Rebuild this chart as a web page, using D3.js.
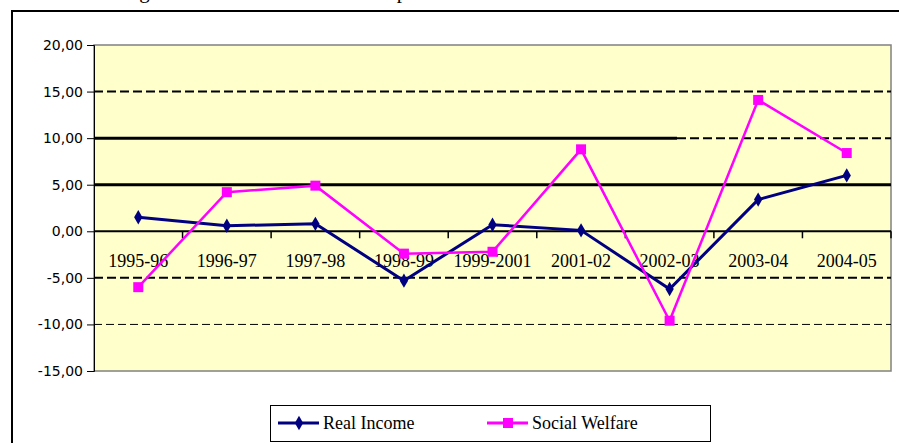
<!DOCTYPE html>
<html>
<head>
<meta charset="utf-8">
<script src="https://cdn.jsdelivr.net/npm/d3@7"></script>
<style>
	body { margin: 0; background: #ffffff; }
	svg { display: block; }
</style>
</head>
<body>
<main></main>
<script>

// DATA
const categories = ["1995-96", "1996-97", "1997-98", "1998-99", "1999-2001", "2001-02", "2002-03", "2003-04", "2004-05"];
const realIncome = [1.5, 0.6, 0.8, -5.3, 0.7, 0.1, -6.2, 3.4, 6.0];
const socialWelfare = [-6.0, 4.2, 4.9, -2.4, -2.2, 8.8, -9.6, 14.1, 8.4];
const yTicks = [20, 15, 10, 5, 0, -5, -10, -15];
const seriesNames = ["Real Income", "Social Welfare"];

const SERIF = "'Liberation Serif', 'Times New Roman', serif";



// CHART
function visualizeData() {
	const w = 899;
	const h = 443;
	const plot = { left: 94, right: 891, top: 45, bottom: 371 };

	const svg = d3.select('main').append('svg')
		.attr("width", w)
		.attr("height", h)
		.style("background-color", "white");

	// scales
	const xScale = d3.scaleBand()
		.domain(categories)
		.range([plot.left, plot.right]);
	const yScale = d3.scaleLinear()
		.domain([-15, 20])
		.range([plot.bottom, plot.top]);

	// title (cut off at top of picture, as in the source)
	svg.append("text")
		.attr("x", 95)
		.attr("y", -2)
		.attr("font-family", SERIF)
		.attr("font-size", 21)
		.text("Change in Income and Welfare compared");

	// outer chart frame
	svg.append("rect")
		.attr("x", 12)
		.attr("y", 11)
		.attr("width", 900)
		.attr("height", 460)
		.attr("fill", "none")
		.attr("stroke", "black")
		.attr("stroke-width", 2);

	// plot area
	svg.append("rect")
		.attr("x", plot.left)
		.attr("y", plot.top)
		.attr("width", plot.right - plot.left)
		.attr("height", plot.bottom - plot.top)
		.attr("fill", "#ffffcc")
		.attr("stroke", "#808080")
		.attr("stroke-width", 1.5);

	// gridlines (styles vary like the source)
	const grid = svg.append("g").attr("class", "grid");
	const gridStyle = {
		"15": { width: 2, dash: "9,4" },
		"5": { width: 3, dash: null },
		"0": { width: 2, dash: null },
		"-5": { width: 2, dash: "9,4" },
		"-10": { width: 1, dash: "8,4" }
	};
	yTicks.filter(v => gridStyle[v]).forEach(v => {
		grid.append("line")
			.attr("x1", plot.left)
			.attr("x2", plot.right)
			.attr("y1", yScale(v))
			.attr("y2", yScale(v))
			.attr("stroke", "black")
			.attr("stroke-width", gridStyle[v].width)
			.attr("stroke-dasharray", gridStyle[v].dash);
	});
	// 10 line: solid, then dashed toward the right
	const split = 677;
	grid.append("line")
		.attr("x1", plot.left).attr("x2", split)
		.attr("y1", yScale(10)).attr("y2", yScale(10))
		.attr("stroke", "black").attr("stroke-width", 3);
	grid.append("line")
		.attr("x1", split).attr("x2", plot.right)
		.attr("y1", yScale(10)).attr("y2", yScale(10))
		.attr("stroke", "black").attr("stroke-width", 2)
		.attr("stroke-dasharray", "9,4");

	// y axis
	const yAxis = d3.axisLeft(yScale)
		.tickValues(yTicks)
		.tickSize(7)
		.tickPadding(4)
		.tickFormat(d => d.toFixed(2).replace(".", ","));
	const gy = svg.append("g")
		.attr("id", "y-axis")
		.attr("transform", `translate(${plot.left}, 0)`)
		.call(yAxis);
	gy.select(".domain").attr("stroke", "black");
	gy.selectAll("text")
		.attr("font-family", "'DejaVu Sans', sans-serif")
		.attr("font-size", 14)
		.attr("fill", "black");

	// x axis at zero
	const xAxis = d3.axisBottom(xScale).tickSize(0).tickFormat("");
	const gx = svg.append("g")
		.attr("id", "x-axis")
		.attr("transform", `translate(0, ${yScale(0)})`)
		.call(xAxis);
	gx.select(".domain").remove();
	// ticks between categories
	const bounds = categories.map(c => xScale(c)).concat([plot.right]).slice(1);
	gx.selectAll("line.sep")
		.data(bounds)
		.enter()
		.append("line")
			.attr("class", "sep")
			.attr("x1", d => d).attr("x2", d => d)
			.attr("y1", 0).attr("y2", 7)
			.attr("stroke", "black")
			.attr("stroke-width", 1.5);
	// category labels
	svg.append("g").selectAll("text")
		.data(categories)
		.enter()
		.append("text")
			.attr("x", d => xScale(d) + xScale.bandwidth() / 2)
			.attr("y", 267)
			.attr("text-anchor", "middle")
			.attr("font-family", SERIF)
			.attr("font-size", 18)
			.text(d => d);

	// series
	const line = d3.line()
		.x((d, i) => xScale(categories[i]) + xScale.bandwidth() / 2)
		.y(d => yScale(d));

	svg.append("path")
		.datum(realIncome)
		.attr("d", line)
		.attr("fill", "none")
		.attr("stroke", "#000080")
		.attr("stroke-width", 3);
	svg.append("path")
		.datum(socialWelfare)
		.attr("d", line)
		.attr("fill", "none")
		.attr("stroke", "#ff00ff")
		.attr("stroke-width", 2.5);

	// markers
	const diamond = d3.symbol().type(d3.symbolDiamond).size(60);
	svg.append("g").selectAll("path")
		.data(realIncome)
		.enter()
		.append("path")
			.attr("d", diamond)
			.attr("transform", (d, i) => `translate(${xScale(categories[i]) + xScale.bandwidth() / 2}, ${yScale(d)})`)
			.attr("fill", "#000080");
	svg.append("g").selectAll("rect")
		.data(socialWelfare)
		.enter()
		.append("rect")
			.attr("x", (d, i) => xScale(categories[i]) + xScale.bandwidth() / 2 - 5)
			.attr("y", d => yScale(d) - 5)
			.attr("width", 10)
			.attr("height", 10)
			.attr("fill", "#ff00ff");

	// legend
	const legend = svg.append("g").attr("id", "legend");
	legend.append("rect")
		.attr("x", 270.5)
		.attr("y", 405.5)
		.attr("width", 440)
		.attr("height", 36)
		.attr("fill", "white")
		.attr("stroke", "black")
		.attr("stroke-width", 1);
	const legX = [278, 487];
	const legColors = ["#000080", "#ff00ff"];
	seriesNames.forEach((name, i) => {
		const g = legend.append("g").attr("transform", `translate(${legX[i]}, 423)`);
		g.append("line")
			.attr("x1", 0).attr("x2", 41)
			.attr("stroke", legColors[i])
			.attr("stroke-width", 3);
		if (i === 0) {
			g.append("path")
				.attr("d", diamond)
				.attr("transform", "translate(21, 0)")
				.attr("fill", legColors[i]);
		} else {
			g.append("rect")
				.attr("x", 16).attr("y", -5)
				.attr("width", 10).attr("height", 10)
				.attr("fill", legColors[i]);
		}
		g.append("text")
			.attr("x", 45)
			.attr("y", 6)
			.attr("font-family", SERIF)
			.attr("font-size", 18)
			.text(name);
	});
}



// MAIN
document.addEventListener('DOMContentLoaded', () => {
	visualizeData();
});
</script>
</body>
</html>
